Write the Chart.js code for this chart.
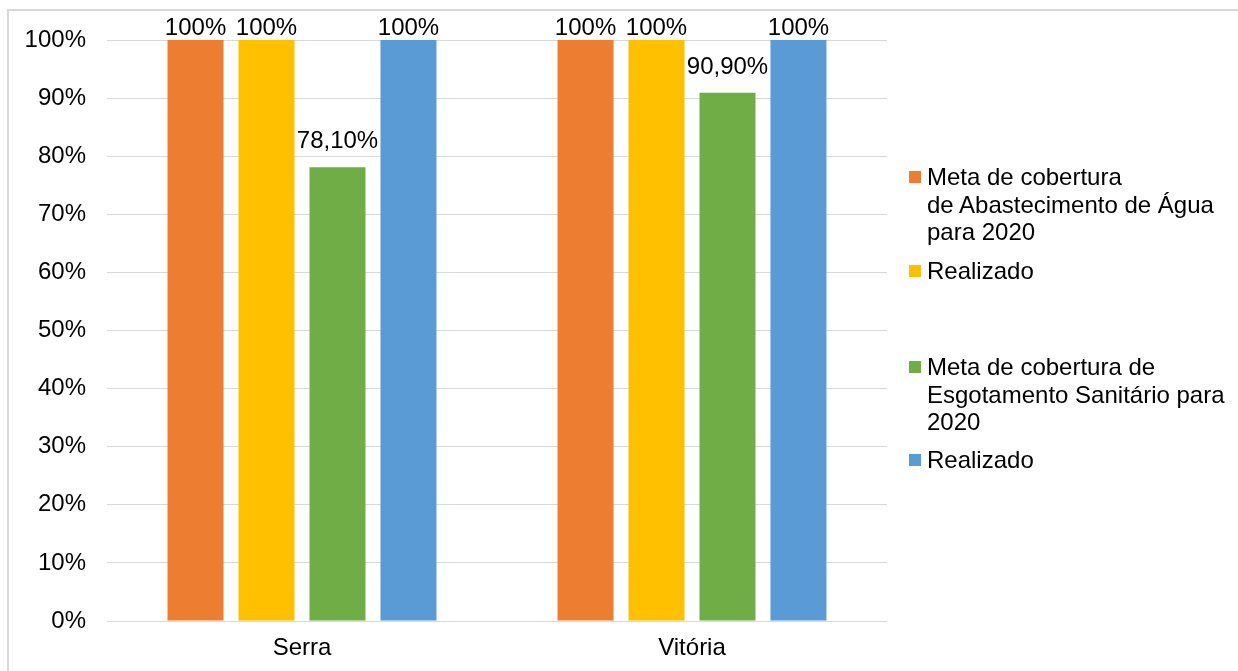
<!DOCTYPE html>
<html>
<head>
<meta charset="utf-8">
<script src="https://cdn.jsdelivr.net/npm/chart.js@4/dist/chart.umd.min.js"></script>
<style>
  html, body { margin: 0; padding: 0; background: #fff; width: 1238px; height: 671px; overflow: hidden; }
  #frame { position: absolute; left: 7px; top: 9px; width: 1300px; height: 800px; border-top: 2px solid #d9d9d9; border-left: 2px solid #d9d9d9; }
  #wrap { position: absolute; left: 0; top: 0; width: 1238px; height: 671px; }
  .leg { position: absolute; left: 909px; font-family: "Liberation Sans", Arial, sans-serif; font-size: 24px; line-height: 27.5px; color: #000; }
  .leg .sw { position: absolute; left: 0; top: 8px; width: 12px; height: 12px; }
  .leg .tx { position: absolute; left: 18px; top: 0; white-space: nowrap; }
</style>
</head>
<body>
<div id="frame"></div>
<div id="wrap"><canvas id="c" width="1238" height="671"></canvas></div>
<div id="legend"></div>
<script>
const categories = ["Serra", "Vitória"];
const seriesNames = [
  "Meta de cobertura<br>de Abastecimento de Água<br>para 2020",
  "Realizado",
  "Meta de cobertura de<br>Esgotamento Sanitário para<br>2020",
  "Realizado"
];
const metaAgua = [100, 100];
const realAgua = [100, 100];
const metaEsgoto = [78.1, 90.9];
const realEsgoto = [100, 100];
const dataLabelsAgua = ["100%", "100%"];
const dataLabelsRealAgua = ["100%", "100%"];
const dataLabelsEsgoto = ["78,10%", "90,90%"];
const dataLabelsRealEsgoto = ["100%", "100%"];
const colors = ["#ED7D31", "#FFC000", "#70AD47", "#5B9BD5"];
const legendTops = [163, 257, 353, 446];

const FONT = "'Liberation Sans', Arial, sans-serif";

const labelSets = [dataLabelsAgua, dataLabelsRealAgua, dataLabelsEsgoto, dataLabelsRealEsgoto];

const dataLabelPlugin = {
  id: 'dataLabels',
  afterDatasetsDraw(chart) {
    const ctx = chart.ctx;
    ctx.save();
    ctx.font = "24px " + FONT;
    ctx.fillStyle = "#000";
    ctx.textAlign = "center";
    ctx.textBaseline = "alphabetic";
    chart.data.datasets.forEach((ds, di) => {
      const meta = chart.getDatasetMeta(di);
      meta.data.forEach((bar, i) => {
        const y = Math.max(bar.y - 19, 35);
        ctx.fillText(labelSets[di][i], bar.x, y);
      });
    });
    ctx.restore();
  }
};

const allSeries = [metaAgua, realAgua, metaEsgoto, realEsgoto];

new Chart(document.getElementById('c'), {
  type: 'bar',
  data: {
    labels: categories,
    datasets: allSeries.map((d, i) => ({
      label: seriesNames[i].replace(/<br>/g, ' '),
      data: d,
      backgroundColor: colors[i],
      borderWidth: 0,
      categoryPercentage: 0.728,
      barPercentage: 0.789
    }))
  },
  options: {
    responsive: false,
    animation: false,
    layout: { padding: { top: 40, right: 351, left: 0, bottom: 0 } },
    plugins: { legend: { display: false }, tooltip: { enabled: false } },
    scales: {
      x: {
        grid: { display: false, drawTicks: false },
        border: { display: false },
        ticks: { color: "#000", font: { family: FONT, size: 24 }, padding: 13 },
        afterFit(s) { s.height = 50; }
      },
      y: {
        min: 0, max: 100,
        grid: { color: "#d9d9d9", lineWidth: 1, drawTicks: false },
        border: { display: false },
        ticks: { stepSize: 10, color: "#000", font: { family: FONT, size: 24 }, padding: 21,
                 callback: v => v + "%" },
        afterFit(s) { s.width = 107; }
      }
    }
  },
  plugins: [dataLabelPlugin]
});

const lg = document.getElementById('legend');
seriesNames.forEach((n, i) => {
  const d = document.createElement('div');
  d.className = 'leg';
  d.style.top = legendTops[i] + 'px';
  d.innerHTML = '<div class="sw" style="background:' + colors[i] + '"></div><div class="tx">' + n + '</div>';
  lg.appendChild(d);
});
</script>
</body>
</html>
